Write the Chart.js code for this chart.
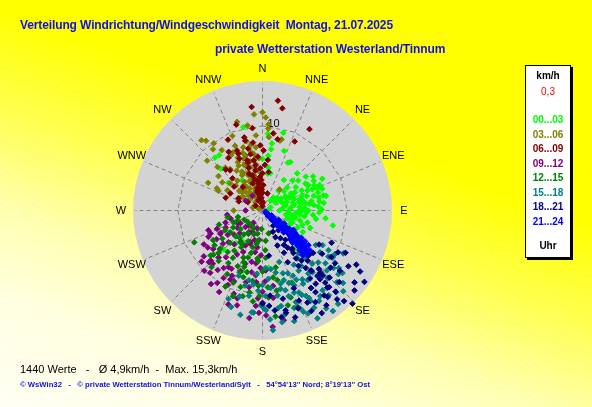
<!DOCTYPE html>
<html><head><meta charset="utf-8">
<script src="https://cdn.jsdelivr.net/npm/chart.js@4.4.0/dist/chart.umd.min.js"></script>
<style>
html,body{margin:0;padding:0;}
body{width:592px;height:407px;overflow:hidden;position:relative;
 background:linear-gradient(200deg,#ffff00 0%,#ffff00 36%,#ffff50 52%,#ffffb0 68%,#ffffe0 82%,#fffff4 100%);
 font-family:"Liberation Sans",Arial,sans-serif;}
#c{position:absolute;left:0;top:0;}
.t{position:absolute;white-space:pre;line-height:1;}
#title{left:20px;top:19px;font-size:12px;font-weight:bold;color:#1010e6;letter-spacing:-0.12px;}
#sub{left:215px;top:43px;font-size:12px;font-weight:bold;color:#1010e6;letter-spacing:-0.08px;}
#foot1{left:20px;top:364px;font-size:11px;color:#000;}
#foot2{left:20px;top:381px;font-size:7.7px;font-weight:bold;color:#1010e6;}
#legend{position:absolute;left:525px;top:65px;width:44px;height:191px;background:#fff;border:1px solid #000;box-shadow:2px 2px 0 #000;}
#legend div{position:absolute;left:0;width:44px;text-align:center;font-size:10px;font-weight:bold;line-height:1;white-space:nowrap;}
</style></head>
<body>
<canvas id="c" width="592" height="407"></canvas>
<div class="t" id="title">Verteilung Windrichtung/Windgeschwindigkeit  Montag, 21.07.2025</div>
<div class="t" id="sub">private Wetterstation Westerland/Tinnum</div>
<div class="t" id="foot1">1440 Werte   -   Ø 4,9km/h  -  Max. 15,3km/h</div>
<div class="t" id="foot2">© WsWin32   -   © private Wetterstation Tinnum/Westerland/Sylt   -   54°54'13'' Nord; 8°19'13'' Ost</div>
<div id="legend"></div>
<script>
// ---- data: [direction in degrees, speed km/h] ----
const DIRS = ['N','NNE','NE','ENE','E','ESE','SE','SSE','S','SSW','SW','WSW','W','WNW','NW','NNW'];
const SPEED_MAX = 15.3;
const RING_VALUE = 10;
const SPOKE_VALUE = 15;
const CALM = '0,3';
const PERIODS = ['00...03','03...06','06...09','09...12','12...15','15...18','18...21','21...24'];

const s0003 = [[28,6.4],[43,6.0],[58,6.0],[61,6.2],[62,8.0],[68,7.0],[77,6.8],[77,7.7],[83,7.3],[84,6.1],[90,5.4],[102,8.5],[69,5.0],[61,4.4],[59,3.9],[60,3.1],[61,2.4],[58,1.8],[84,2.4],[94,3.1],[95,3.9],[105,4.6],[116,4.6],[112,3.8],[108,3.1],[90,4.7],[81,5.2],[77,4.4],[75,3.7],[39,3.0],[40,2.0],[69,1.0],[90,0.6],[8,5.1],[12,4.5],[6,6.5],[8,8.0],[4,9.1],[30,6.6],[61,6.1],[76,7.4],[47,4.0],[39,1.5],[49,2.3],[61,4.2],[76,4.9],[318,8.4],[322,8.3],[315,7.0],[309,5.2],[347,10.1],[326,4.3],[0,6.1],[8,7.3],[8,4.4],[229,8.1],[198,7.5],[225,6.5],[219,5.0],[174,6.8],[214,4.3],[139,5.9],[134,5.9],[65,3.5],[70,4.0],[72,5.5],[80,3.8],[85,4.4],[88,3.2],[92,4.2],[98,5.0],[100,3.5],[66,5.8],[74,6.3],[82,5.6],[55,4.8],[50,5.5],[64,6.8],[70,7.5],[86,6.6],[95,6.0],[105,5.5],[110,5.0],[78,2.8],[68,2.5],[90,2.0],[100,2.8],[58,3.2],[52,6.5],[56,7.2],[63,5.2],[67,6.4],[71,3.0],[73,4.6],[79,5.9],[81,6.8],[87,5.0],[89,7.0],[93,5.2],[96,4.4],[99,6.4],[103,4.0],[107,3.6],[63,3.8],[57,2.6],[48,3.4],[45,5.0],[35,4.4],[80,4.8],[84,3.4],[72,6.9],[66,7.4],[60,7.0],[92,6.7],[97,7.5],[110,6.0],[118,5.4],[125,5.0],[20,7.5],[15,9.5],[120,2.8],[118,3.6],[122,4.4],[126,5.4],[128,6.4]];
const s0306 = [[0,11.6],[355,11.4],[344,10.9],[4,10.2],[4,9.7],[15,8.7],[5,8.7],[319,11.0],[321,10.6],[321,9.3],[337,8.3],[343,7.8],[350,7.9],[355,8.9],[354,7.5],[333,7.7],[330,7.5],[343,6.8],[351,6.8],[333,6.4],[339,5.7],[332,5.0],[340,4.8],[350,5.0],[356,6.2],[305,5.8],[297,7.2],[294,5.7],[313,4.3],[323,3.7],[337,3.6],[342,2.7],[317,2.4],[319,1.3],[296,0.5],[287,1.2],[0,0.8],[270,3.4],[312,3.2],[356,3.2],[296,6.0],[14,8.5],[39,3.2],[324,9.8],[314,7.4],[319,6.7],[332,6.0],[333,5.0],[345,3.0],[348,4.0],[350,2.0],[340,2.5],[338,4.5],[344,5.3],[352,3.4],[355,4.6],[346,6.0],[336,3.8],[330,3.0],[342,1.8],[335,2.2],[352,5.5],[347,1.5],[330,4.8],[325,2.6],[340,6.5],[349,7.0],[357,2.4],[344,3.5],[338,5.8],[332,5.2],[328,4.0],[346,4.4],[305,2.8],[310,3.6],[315,2.0],[300,3.0],[320,4.6],[338,9.5],[350,10.2],[2,11.0],[326,8.6],[312,8.8],[308,6.6],[300,4.8],[341,7.2],[347,8.4],[335,6.9],[327,5.6],[322,6.2],[345,2.2],[353,1.2],[334,1.6],[326,3.4],[352,6.2],[318,3.0],[310,5.0],[342,4.0]];
const s0609 = [[8,13.1],[11,12.3],[354,12.3],[30,11.1],[8,9.2],[334,9.3],[346,8.9],[337,7.3],[355,6.4],[9,4.6],[289,4.6],[298,4.3],[297,3.2],[317,5.2],[318,6.5],[343,6.2],[350,6.0],[342,5.3],[351,5.4],[344,4.3],[350,3.6],[350,2.8],[344,2.2],[352,1.8],[338,1.3],[305,1.0],[0,2.1],[2,3.0],[16,2.1],[337,7.7],[321,6.1],[291,3.0],[327,7.4],[346,8.5],[347,7.5],[352,8.1],[358,7.7],[1,7.1],[343,5.9],[347,2.7],[355,1.5],[358,2.5],[352,3.2],[356,4.0],[350,4.8],[358,3.6],[2,1.0],[354,0.8],[348,1.6],[357,5.0],[345,2.4],[340,3.4],[0,4.4],[353,2.0],[353,9.8],[343,10.6],[12,8.6],[25,9.0],[330,8.0],[336,6.7],[348,6.8],[6,6.0],[3,5.4],[359,0.5],[346,3.8],[340,4.6],[320,3.6],[310,4.4],[300,2.0]];
const s0912 = [[263,4.2],[256,3.9],[242,5.6],[244,7.1],[223,7.6],[224,9.9],[212,10.1],[208,10.9],[205,9.7],[199,10.4],[182,12.1],[175,13.8],[242,3.3],[230,6.1],[206,4.6],[201,4.0],[208,2.3],[211,3.2],[182,5.3],[187,6.3],[177,7.1],[193,8.7],[186,7.7],[173,10.4],[180,10.9],[200,7.6],[205,8.5],[211,7.8],[226,8.5],[223,8.6],[246,6.7],[205,9.0],[187,12.8],[241,5.7],[227,5.5],[183,10.4],[326,2.1],[300,2.3],[270,2.0],[169,13.2],[215,4.5],[220,5.2],[225,3.8],[230,4.4],[235,5.0],[210,6.0],[205,5.4],[200,4.2],[195,3.6],[212,3.0],[228,6.8],[240,3.0],[218,7.0],[208,7.8],[198,6.6],[190,5.0],[186,3.5],[222,2.4],[245,4.8],[232,7.4],[214,8.2],[202,9.0],[238,6.4],[226,8.8],[190,7.4],[185,8.5],[180,9.6],[196,10.8],[204,2.8],[216,1.8],[190,9.2],[195,11.6],[178,12.4],[184,11.3],[200,11.8],[210,9.2],[217,8.8],[232,8.8],[236,7.8],[248,5.8],[252,4.6],[235,3.6],[226,2.8],[196,2.2],[188,4.4],[182,6.8],[178,8.4],[172,9.0],[192,6.2],[220,9.6],[215,10.6],[230,9.4],[250,6.8],[240,8.0]];
const s1215 = [[245,8.9],[228,7.8],[213,7.4],[199,10.7],[259,4.2],[248,3.7],[226,4.4],[211,4.6],[213,3.2],[195,4.5],[188,3.6],[197,5.8],[186,5.7],[200,6.5],[194,7.5],[188,8.4],[202,9.2],[209,8.6],[221,7.9],[229,8.1],[171,8.0],[167,6.9],[176,4.7],[165,2.8],[176,10.3],[162,10.8],[165,11.6],[183,8.9],[200,7.8],[176,9.1],[242,5.0],[248,3.2],[228,6.7],[200,3.0],[205,4.0],[210,5.0],[215,5.8],[220,4.2],[225,5.4],[195,5.2],[190,4.0],[185,6.0],[230,3.4],[212,6.6],[198,7.0],[220,6.4],[235,5.8],[240,4.0],[208,2.4],[192,2.8],[218,3.6],[202,6.0],[226,7.2],[180,7.2],[176,5.6],[232,2.2],[196,8.2],[214,4.6],[189,9.8],[193,10.4],[206,10.0],[182,10.1],[170,9.6],[158,9.2],[160,12.1],[173,12.6],[168,8.4],[174,3.6],[183,2.2],[222,9.0],[234,7.0],[239,6.8],[252,5.4],[255,3.0],[243,2.4],[236,4.6],[216,2.2],[204,7.2],[186,10.8],[196,9.4]];
const s1518 = [[123,7.5],[120,8.2],[121,9.1],[129,10.8],[132,12.8],[138,13.0],[145,14.5],[152,13.0],[153,11.3],[160,9.1],[175,8.1],[171,11.7],[153,14.3],[169,11.5],[201,11.2],[193,9.1],[186,12.1],[140,6.6],[138,7.6],[137,8.6],[133,9.0],[130,9.7],[124,10.0],[130,11.7],[136,11.1],[139,10.1],[144,9.2],[149,8.3],[155,8.5],[162,7.8],[168,7.5],[174,9.2],[164,9.8],[156,10.6],[148,10.8],[143,11.8],[142,12.7],[160,11.5],[152,11.7],[178,10.1],[181,11.2],[121,10.0],[128,12.0],[135,13.5],[185,7.5],[191,8.4],[179,11.6],[159,12.4],[152,12.1],[200,8.2],[185,12.1],[178,11.8],[189,10.2],[162,12.1],[180,11.2],[158,12.9],[126,8.4],[131,7.6],[134,6.4],[144,7.0],[147,9.8],[150,9.4],[157,9.6],[163,10.6],[166,8.9],[170,10.2],[172,7.0],[177,6.8],[183,9.5],[187,8.8],[195,10.5],[198,12.0],[192,12.6],[176,12.9],[170,13.4],[164,13.6],[147,13.8],[141,14.2],[134,12.2],[127,11.3],[125,9.5],[118,10.8],[133,10.4],[141,9.4],[146,12.2],[156,13.3],[150,7.4],[162,6.4],[168,12.6],[175,14.2],[158,8.0],[180,8.8],[145,8.0],[151,9.9],[155,11.0],[159,10.4],[163,8.6],[167,9.5],[148,12.6],[154,9.1]];
const s1821 = [[119,10.2],[123,12.1],[125,14.7],[136,15.3],[144,12.4],[150,12.5],[167,12.4],[154,2.8],[147,3.9],[146,5.3],[145,6.9],[143,8.5],[140,10.1],[139,11.3],[126,8.7],[130,7.8],[134,7.6],[138,7.1],[142,5.7],[153,5.6],[157,4.5],[172,5.4],[154,6.8],[147,7.8],[141,9.1],[137,10.0],[140,11.9],[137,10.5],[144,10.7],[147,11.5],[154,12.1],[160,12.3],[158,9.9],[167,10.7],[173,11.9],[180,11.0],[175,10.1],[117,11.0],[126,10.6],[154,3.5],[130,3.1],[132,4.1],[130,10.5],[140,13.7],[143,12.8],[167,12.1],[158,11.5],[148,10.8],[176,11.3],[141,3.0],[142,4.4],[143,5.8],[142,7.5],[141,9.2],[140,10.6],[139,12.0],[138,12.9],[144,6.2],[138,8.0],[136,9.6],[154,13.2],[115,9.0],[120,12.8],[122,13.6],[128,13.8],[131,14.4],[133,12.4],[128,11.6],[124,9.8],[121,7.8],[135,11.2],[146,13.5],[150,14.0],[170,12.8],[136,5.0],[145,2.2],[148,4.8],[163,13.2],[145,9.8],[138,14.4]];
const s2124 = [[110,0.4],[120,0.7],[125,1.0],[130,1.2],[122,1.5],[132,1.7],[126,2.0],[129,2.2],[123,2.5],[131,2.7],[127,3.0],[133,3.2],[125,3.4],[129,3.6],[131,3.9],[126,4.1],[130,4.3],[133,4.5],[128,4.7],[131,4.9],[127,5.1],[134,5.3],[129,5.5],[132,5.7],[130,5.9],[135,6.1],[131,6.3],[133,6.5],[129,6.6],[134,6.8],[132,7.0],[136,6.9],[133,7.2],[128,6.0],[126,5.0],[135,5.8],[124,3.8],[134,3.0],[128,0.5],[135,0.9],[118,1.2],[136,1.5],[120,2.2],[135,2.0],[121,3.0],[136,2.6],[122,4.3],[136,3.6],[124,4.6],[136,4.7],[125,5.6],[137,5.2],[126,6.2],[137,6.4],[127,6.8],[138,7.0],[130,7.3],[135,7.4],[128,3.3],[132,3.5],[127,2.4],[133,2.4],[130,1.9]];

const SERIES = [s0003,s0306,s0609,s0912,s1215,s1518,s1821,s2124];
const COLORS = ['#00ff00','#808000','#800000','#800080','#008000','#008080','#000080','#0000ff'];

// legend box
const lg = document.getElementById('legend');
function addLeg(txt, top, color, weight){
  const d = document.createElement('div');
  d.textContent = txt; d.style.top = top + 'px'; d.style.color = color;
  if (weight) d.style.fontWeight = weight;
  lg.appendChild(d);
}
addLeg('km/h', 5, '#000');
addLeg(CALM, 21, '#ff0000', 'normal');
PERIODS.forEach((p, i) => addLeg(p, 49 + i * 14.5, COLORS[i]));
addLeg('Uhr', 175, '#000');

const rad = d => d * Math.PI / 180;
const toXY = ([d, s]) => ({ x: s * Math.sin(rad(d)), y: s * Math.cos(rad(d)) });

const polarGrid = {
  id: 'polarGrid',
  beforeDatasetsDraw(chart) {
    const { ctx, scales: { x, y } } = chart;
    const cx = x.getPixelForValue(0), cy = y.getPixelForValue(0);
    const R = v => x.getPixelForValue(v) - cx;
    ctx.save();
    ctx.fillStyle = '#d3d3d3';
    ctx.beginPath(); ctx.arc(cx, cy, R(SPEED_MAX), 0, 2 * Math.PI); ctx.fill();
    ctx.strokeStyle = '#808080'; ctx.lineWidth = 1; ctx.setLineDash([4, 3]);
    DIRS.forEach((d, i) => {
      const a = rad(i * 22.5);
      ctx.beginPath(); ctx.moveTo(cx, cy);
      ctx.lineTo(cx + R(SPOKE_VALUE) * Math.sin(a), cy - R(SPOKE_VALUE) * Math.cos(a));
      ctx.stroke();
    });
    ctx.beginPath();
    DIRS.forEach((d, i) => {
      const a = rad(i * 22.5);
      const px = cx + R(RING_VALUE) * Math.sin(a), py = cy - R(RING_VALUE) * Math.cos(a);
      if (i === 0) ctx.moveTo(px, py); else ctx.lineTo(px, py);
    });
    ctx.closePath(); ctx.stroke();
    ctx.setLineDash([]);
    ctx.fillStyle = '#000';
    ctx.font = '11px "Liberation Sans", Arial, sans-serif';
    ctx.textAlign = 'center'; ctx.textBaseline = 'middle';
    const LR = R(SPEED_MAX) + 12;
    DIRS.forEach((d, i) => {
      const a = rad(i * 22.5);
      ctx.fillText(d, cx + LR * Math.sin(a), cy - LR * Math.cos(a));
    });
    ctx.textAlign = 'left';
    ctx.fillText(String(RING_VALUE), cx + 5, cy - R(RING_VALUE) - 2);
    ctx.restore();
  }
};

new Chart(document.getElementById('c'), {
  type: 'scatter',
  data: {
    datasets: SERIES.map((s, i) => ({
      label: PERIODS[i],
      data: s.map(toXY),
      backgroundColor: COLORS[i],
      borderColor: COLORS[i],
      borderWidth: 1,
      pointStyle: 'rectRot',
      pointRadius: 2.8,
      order: SERIES.length - i
    }))
  },
  options: {
    responsive: false,
    animation: false,
    layout: { padding: { left: 133, right: 200, top: 81, bottom: 67 } },
    scales: {
      x: { display: false, min: -SPEED_MAX, max: SPEED_MAX },
      y: { display: false, min: -SPEED_MAX, max: SPEED_MAX }
    },
    plugins: { legend: { display: false }, tooltip: { enabled: false } }
  },
  plugins: [polarGrid]
});
</script>
</body></html>
